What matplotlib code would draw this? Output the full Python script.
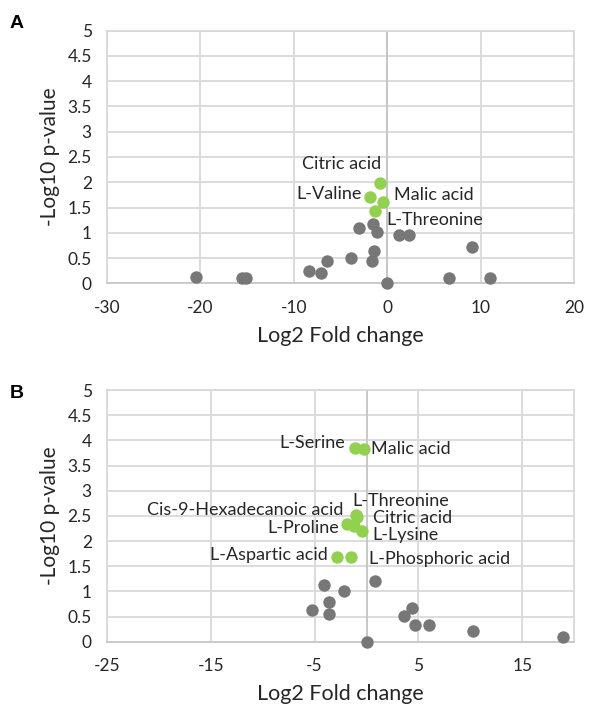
import matplotlib
matplotlib.use("Agg")
import matplotlib.pyplot as plt
import numpy as np

plt.rcParams['font.family'] = ['Lato', 'DejaVu Sans']

GREY = '#777777'
GREEN = '#92d050'
GRID = '#d9d9d9'

# panel A: log2 fold change / -log10 p
a_grey_x = [-1.5, -3.0, -1.1, 1.25, 2.3, 9.1, -1.4, -3.9, -6.5, -1.6, -8.4, -7.05,
            -20.5, -15.5, -15.1, -0.07, 6.6, 11.0]
a_grey_y = [1.17, 1.10, 1.02, 0.96, 0.96, 0.71, 0.63, 0.51, 0.45, 0.44, 0.25, 0.20,
            0.125, 0.10, 0.11, 0.0, 0.105, 0.105]
a_names = ["Citric acid", "L-Valine", "Malic acid", "L-Threonine"]
a_green_x = [-0.78, -1.85, -0.49, -1.30]
a_green_y = [1.99, 1.70, 1.60, 1.44]

# panel B
b_grey_x = [0.80, -4.06, -2.13, -3.65, -5.29, -3.58, 4.38, 3.64, 4.64, 5.99, 10.28, 18.9, 0.0]
b_grey_y = [1.21, 1.12, 1.00, 0.79, 0.62, 0.56, 0.66, 0.52, 0.33, 0.33, 0.22, 0.10, 0.0]
b_names = ["L-Serine", "Malic acid", "L-Threonine", "Citric acid",
           "Cis-9-Hexadecanoic acid", "L-Proline", "L-Lysine",
           "L-Aspartic acid", "L-Phosphoric acid"]
b_green_x = [-1.13, -0.26, -1.04, -0.95, -1.85, -1.2, -0.48, -2.87, -1.5]
b_green_y = [3.84, 3.83, 2.52, 2.48, 2.34, 2.29, 2.19, 1.68, 1.69]

y_ticks = [0, 0.5, 1, 1.5, 2, 2.5, 3, 3.5, 4, 4.5, 5]
y_labels = ["0", "0.5", "1", "1.5", "2", "2.5", "3", "3.5", "4", "4.5", "5"]
a_xticks = [-30, -20, -10, 0, 10, 20]
b_xticks = [-25, -15, -5, 5, 15]

# label placement (offset in pixels, alignment)
a_lab = [(1, 19, 'right'), (-8, 3, 'right'), (11, 7, 'left'), (11, -9, 'left')]
b_lab = [(-10, 5, 'right'), (7, 0, 'left'), (-3, 14, 'left'), (16, -1, 'left'),
         (-4, 14, 'right'), (-15, -2, 'right'), (11, -4, 'left'),
         (-9, 2, 'right'), (18, -2, 'left')]

fig = plt.figure(figsize=(5.89, 7.10), dpi=100)
ax_a = fig.add_axes([0.1817, 0.601, 0.793, 0.3558])
ax_b = fig.add_axes([0.1817, 0.0962, 0.793, 0.3545])


def setup(ax, xlim, xticks):
    ax.set_xlim(*xlim)
    ax.set_ylim(0, 5)
    ax.set_yticks(y_ticks)
    ax.set_yticklabels(y_labels)
    ax.set_xticks(xticks)
    ax.set_xticklabels([str(t) for t in xticks])
    ax.grid(True, color=GRID, linewidth=1.3)
    ax.set_axisbelow(True)
    for s in ax.spines.values():
        s.set_color(GRID)
        s.set_linewidth(1.3)
    ax.spines['bottom'].set_color('#c8c8c8')
    ax.axvline(0, color='#c4c4c4', linewidth=1.3, zorder=1)
    ax.tick_params(length=0, labelsize=12.5, colors='#262626')
    ax.tick_params(axis='y', pad=11)
    ax.tick_params(axis='x', pad=12)
    ax.set_xlabel("Log2 Fold change", fontsize=15.5, color='#262626', labelpad=7)
    ax.set_ylabel("-Log10 p-value", fontsize=15, color='#262626', labelpad=5)


def draw(ax, gx, gy, names, nx, ny, labs):
    ax.scatter(gx, gy, s=80, color=GREY, zorder=3, clip_on=False, linewidths=0)
    ax.scatter(nx, ny, s=80, color=GREEN, zorder=4, clip_on=False, linewidths=0)
    for name, x, y, (dx, dy, ha) in zip(names, nx, ny, labs):
        ax.annotate(name, (x, y), xytext=(dx, dy), textcoords='offset pixels',
                    ha=ha, va='center', fontsize=13, color='#262626', zorder=5)


setup(ax_a, (-30, 20), a_xticks)
setup(ax_b, (-25, 20), b_xticks)
draw(ax_a, a_grey_x, a_grey_y, a_names, a_green_x, a_green_y, a_lab)
draw(ax_b, b_grey_x, b_grey_y, b_names, b_green_x, b_green_y, b_lab)

fig.text(10 / 589, 1 - 24 / 710, "A", fontsize=14, fontweight='bold',
         family=['Liberation Sans', 'DejaVu Sans'], va='center')
fig.text(10 / 589, 1 - 394 / 710, "B", fontsize=14, fontweight='bold',
         family=['Liberation Sans', 'DejaVu Sans'], va='center')

fig.savefig("out.png", dpi=100)
